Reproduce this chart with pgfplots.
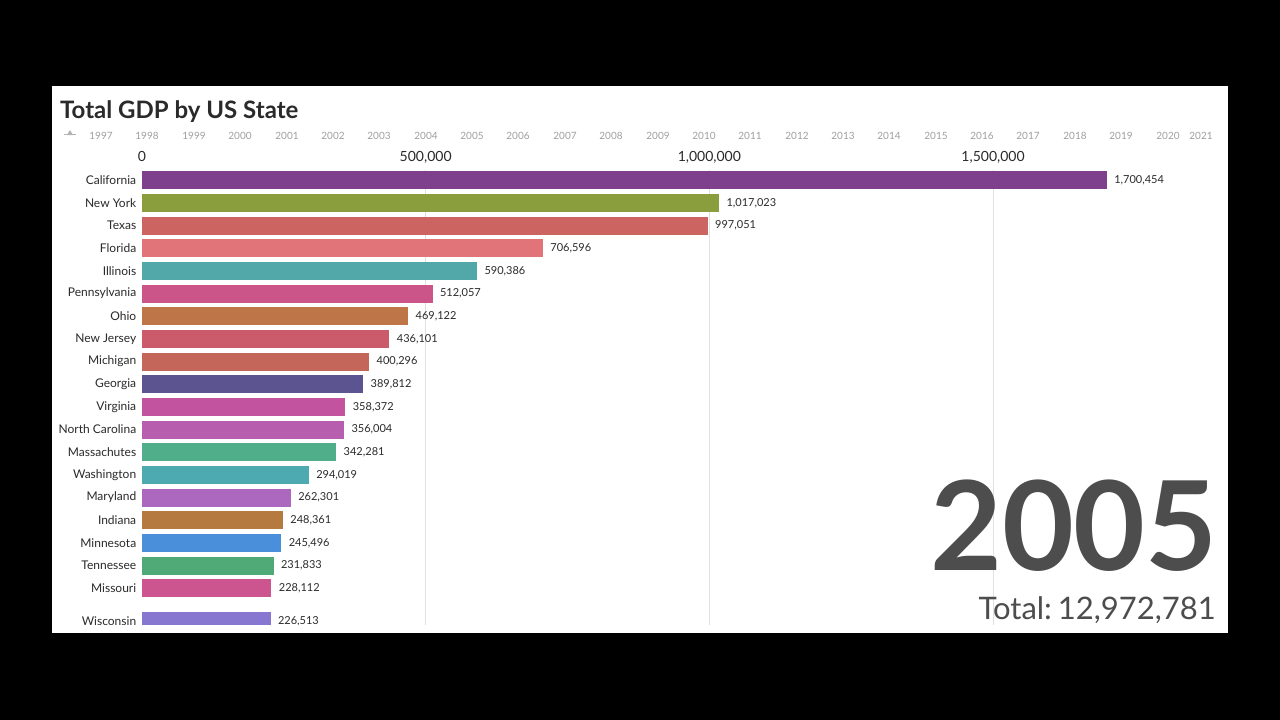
\documentclass[border=0pt]{standalone}
\usepackage{pgfplots}
\pgfplotsset{compat=1.18}
\usepackage{fontspec}
\setmainfont{Lato}
\definecolor{cCA}{HTML}{7E3F8C}
\definecolor{cNY}{HTML}{8A9E3D}
\definecolor{cTX}{HTML}{CC6462}
\definecolor{cFL}{HTML}{E07478}
\definecolor{cIL}{HTML}{52A8A8}
\definecolor{cPA}{HTML}{CB5588}
\definecolor{cOH}{HTML}{BE7548}
\definecolor{cNJ}{HTML}{CB5B6A}
\definecolor{cMI}{HTML}{C4665A}
\definecolor{cGA}{HTML}{5B5490}
\definecolor{cVA}{HTML}{C2539E}
\definecolor{cNC}{HTML}{B85EAF}
\definecolor{cMA}{HTML}{50AE8A}
\definecolor{cWA}{HTML}{4DAAB0}
\definecolor{cMD}{HTML}{AC68BE}
\definecolor{cIN}{HTML}{B57A40}
\definecolor{cMN}{HTML}{4A8FD9}
\definecolor{cTN}{HTML}{4FAA78}
\definecolor{cMO}{HTML}{CC5590}
\definecolor{cWI}{HTML}{8877D0}
\definecolor{txtdark}{HTML}{2A2A2A}
\definecolor{bignum}{HTML}{4D4D4D}
\begin{document}
\begin{tikzpicture}
\useasboundingbox (0pt,0pt) rectangle (1280pt,-720pt);
\fill[black] (0pt,0pt) rectangle (1280pt,-720pt);
\fill[white] (52pt,-86pt) rectangle (1228pt,-633pt);
\node[anchor=base west, inner sep=0, text=txtdark, font=\fontsize{24}{24}\selectfont\bfseries] at (60pt,-118pt) {Total GDP by US State};
% timeline
\foreach \yr/\xx in {1997/101,1998/147,1999/194,2000/240,2001/287,2002/333,2003/379,2004/426,2005/472,2006/518,2007/565,2008/611,2009/658,2010/704,2011/750,2012/797,2013/843,2014/889,2015/936,2016/982,2017/1028,2018/1075,2019/1121,2020/1168,2021/1201}{
  \node[anchor=base, inner sep=0, text=gray!75, font=\fontsize{10}{10}\selectfont] at (\xx pt,-139pt) {\yr};
}
\fill[gray!60] (64pt,-134pt) rectangle (76pt,-135pt);
\fill[gray!60] (67pt,-135pt) -- (70pt,-130pt) -- (73pt,-135pt) -- cycle;
\begin{axis}[
  at={(142pt,-170pt)}, anchor=north west,
  scale only axis, width=1078pt, height=455.2pt,
  xmin=0, xmax=1900000, ymin=-0.45, ymax=19.63,
  y dir=reverse,
  xbar, bar width=18pt, bar shift=0pt,
  axis line style={draw=none},
  tick style={draw=none},
  xticklabel pos=upper,
  xtick={0,500000,1000000,1500000},
  xticklabels={0,{500,000},{1,000,000},{1,500,000}},
  scaled x ticks=false,
  xticklabel style={anchor=base, yshift=9pt, text=txtdark, font=\fontsize{14}{14}\selectfont},
  extra x ticks={500000,1000000,1500000},
  extra x tick labels={},
  extra x tick style={grid=major, major grid style={draw=black!12, line width=0.8pt}},
  ytick={0,1,2,3,4,5,6,7,8,9,10,11,12,13,14,15,16,17,18,19.45},
  yticklabels={California,New York,Texas,Florida,Illinois,Pennsylvania,Ohio,New Jersey,Michigan,Georgia,Virginia,North Carolina,Massachutes,Washington,Maryland,Indiana,Minnesota,Tennessee,Missouri,Wisconsin},
  yticklabel style={anchor=east, xshift=2pt, text=txtdark, font=\fontsize{12}{12}\selectfont},
  point meta=explicit symbolic,
  nodes near coords,
  nodes near coords style={anchor=west, xshift=4pt, text=txtdark, font=\fontsize{11}{11}\selectfont},
  every axis plot/.append style={draw=none},
]
\addplot[fill=cCA] coordinates {(1700454,0) [1,700,454]};
\addplot[fill=cNY] coordinates {(1017023,1) [1,017,023]};
\addplot[fill=cTX] coordinates {(997051,2) [997,051]};
\addplot[fill=cFL] coordinates {(706596,3) [706,596]};
\addplot[fill=cIL] coordinates {(590386,4) [590,386]};
\addplot[fill=cPA] coordinates {(512057,5) [512,057]};
\addplot[fill=cOH] coordinates {(469122,6) [469,122]};
\addplot[fill=cNJ] coordinates {(436101,7) [436,101]};
\addplot[fill=cMI] coordinates {(400296,8) [400,296]};
\addplot[fill=cGA] coordinates {(389812,9) [389,812]};
\addplot[fill=cVA] coordinates {(358372,10) [358,372]};
\addplot[fill=cNC] coordinates {(356004,11) [356,004]};
\addplot[fill=cMA] coordinates {(342281,12) [342,281]};
\addplot[fill=cWA] coordinates {(294019,13) [294,019]};
\addplot[fill=cMD] coordinates {(262301,14) [262,301]};
\addplot[fill=cIN] coordinates {(248361,15) [248,361]};
\addplot[fill=cMN] coordinates {(245496,16) [245,496]};
\addplot[fill=cTN] coordinates {(231833,17) [231,833]};
\addplot[fill=cMO] coordinates {(228112,18) [228,112]};
\addplot[fill=cWI] coordinates {(226513,19.45) [226,513]};
\end{axis}
\fill[white] (52pt,-625pt) rectangle (1228pt,-633pt);
\node[anchor=base east, inner sep=0, text depth=0pt, text=bignum, font=\fontsize{124}{124}\selectfont\bfseries] at (1218pt,-570pt) {2005};
\node[anchor=base east, inner sep=0, text=bignum, font=\fontsize{31}{31}\selectfont] at (1216pt,-619pt) {Total:\hspace{-0.15em} 12,972,781};
\end{tikzpicture}
\end{document}
